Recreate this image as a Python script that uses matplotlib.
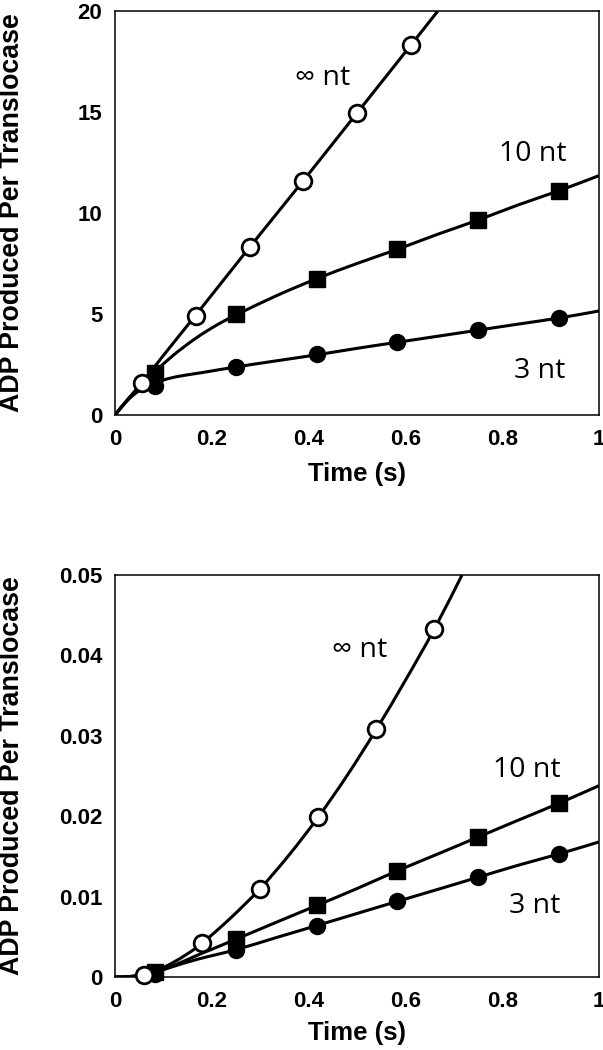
import matplotlib
matplotlib.use("Agg")
import matplotlib.pyplot as plt
import numpy as np
from matplotlib.path import Path
from matplotlib.patches import PathPatch

# ---------------- data ----------------
# Top panel: ADP per translocase (0-20)
top_inf_t = [0.056, 0.167, 0.278, 0.389, 0.500, 0.611]
top_inf_y = [1.6, 4.9, 8.3, 11.6, 14.95, 18.3]
top_10_t = [0.083, 0.250, 0.417, 0.583, 0.750, 0.917]
top_10_y = [2.1, 5.0, 6.75, 8.2, 9.65, 11.1]
top_3_t = [0.083, 0.250, 0.417, 0.583, 0.750, 0.917]
top_3_y = [1.45, 2.4, 3.0, 3.6, 4.22, 4.8]

# fitted curves
top_inf_curve_t = [0, 0.03, 0.056, 0.1, 0.167, 0.278, 0.389, 0.5, 0.611, 0.667]
top_inf_curve_y = [0, 0.85, 1.6, 2.95, 4.95, 8.3, 11.6, 14.95, 18.3, 20.0]
top_10_curve_t = [0, 0.02, 0.04, 0.06, 0.083, 0.12, 0.167, 0.21, 0.25, 0.333, 0.417,
                  0.5, 0.583, 0.667, 0.75, 0.833, 0.917, 1.0]
top_10_curve_y = [0, 0.6, 1.15, 1.65, 2.15, 2.95, 3.8, 4.45, 4.95, 5.9, 6.75,
                  7.5, 8.2, 8.95, 9.65, 10.4, 11.1, 11.85]
top_3_curve_t = [0, 0.015, 0.03, 0.045, 0.06, 0.083, 0.11, 0.14, 0.18, 0.25, 0.333,
                 0.417, 0.5, 0.583, 0.667, 0.75, 0.833, 0.917, 1.0]
top_3_curve_y = [0, 0.45, 0.82, 1.12, 1.35, 1.6, 1.8, 1.95, 2.1, 2.38, 2.68,
                 2.98, 3.3, 3.6, 3.9, 4.2, 4.5, 4.8, 5.15]

# Bottom panel: ADP per translocase (0-0.05)
bot_inf_t = [0.06, 0.18, 0.30, 0.42, 0.54, 0.66]
bot_inf_y = [0.0003, 0.0042, 0.0110, 0.0199, 0.0308, 0.0433]
bot_10_t = [0.083, 0.250, 0.417, 0.583, 0.750, 0.917]
bot_10_y = [0.0006, 0.0047, 0.0089, 0.0132, 0.0174, 0.0216]
bot_3_t = [0.083, 0.250, 0.417, 0.583, 0.750, 0.917]
bot_3_y = [0.0004, 0.0034, 0.0064, 0.0094, 0.0124, 0.0153]

bot_inf_curve_t = [0, 0.03, 0.06, 0.09, 0.12, 0.15, 0.18, 0.24, 0.30, 0.36, 0.42,
                   0.48, 0.54, 0.60, 0.66, 0.717]
bot_inf_curve_y = [0, 0.00005, 0.0003, 0.0009, 0.0018, 0.0029, 0.0042, 0.0074, 0.0110,
                   0.0152, 0.0199, 0.0251, 0.0308, 0.0369, 0.0433, 0.0500]
bot_10_curve_t = [0, 0.03, 0.06, 0.083, 0.12, 0.17, 0.25, 0.333, 0.417, 0.5,
                  0.583, 0.667, 0.75, 0.833, 0.917, 1.0]
bot_10_curve_y = [0, 0.00005, 0.0003, 0.0006, 0.0014, 0.0027, 0.0047, 0.0068, 0.0089,
                  0.0110, 0.0132, 0.0153, 0.0174, 0.0195, 0.0216, 0.0238]
bot_3_curve_t = [0, 0.03, 0.06, 0.083, 0.12, 0.17, 0.25, 0.333, 0.417, 0.5,
                 0.583, 0.667, 0.75, 0.833, 0.917, 1.0]
bot_3_curve_y = [0, 0.00005, 0.0003, 0.0006, 0.0013, 0.0022, 0.0034, 0.0049, 0.0064,
                 0.0079, 0.0094, 0.0109, 0.0124, 0.0139, 0.0153, 0.0168]

x_ticks = [0, 0.2, 0.4, 0.6, 0.8, 1.0]
x_ticklabels = ["0", "0.2", "0.4", "0.6", "0.8", "1"]
top_yticks = [0, 5, 10, 15, 20]
top_yticklabels = ["0", "5", "10", "15", "20"]
bot_yticks = [0, 0.01, 0.02, 0.03, 0.04, 0.05]
bot_yticklabels = ["0", "0.01", "0.02", "0.03", "0.04", "0.05"]

series_labels = ["\u221e nt", "10 nt", "3 nt"]
top_label_pos = [(0.43, 16.7), (0.864, 12.9), (0.878, 2.2)]
bot_label_pos = [(0.506, 0.0407), (0.851, 0.0257), (0.868, 0.0088)]

xlabel = "Time (s)"
ylabel = "ADP Produced Per Translocase"

# ---------------- plotting ----------------
W, H = 603, 1050
fig = plt.figure(figsize=(W / 100, H / 100), dpi=100)
ax_top = fig.add_axes([115 / W, 1 - 415 / H, 484 / W, 404 / H])
ax_bot = fig.add_axes([115 / W, 1 - 977 / H, 484 / W, 402 / H])

bold = dict(family=["Liberation Sans", "DejaVu Sans"], weight="bold")
ann_font = dict(family=["Open Sans", "DejaVu Sans"], size=20.5)

LW = 2.2


def smooth_path(ax, xs, ys):
    """Smooth curve through the sampled points, drawn as Bezier segments
    (Catmull-Rom control points) in data space."""
    p = np.column_stack([xs, ys]).astype(float)
    verts = [tuple(p[0])]
    codes = [Path.MOVETO]
    n = len(p)
    for i in range(n - 1):
        p0 = p[i - 1] if i > 0 else p[i]
        p1 = p[i]
        p2 = p[i + 1]
        p3 = p[i + 2] if i + 2 < n else p[i + 1]
        c1 = p1 + (p2 - p0) / 6.0
        c2 = p2 - (p3 - p1) / 6.0
        verts += [tuple(c1), tuple(c2), tuple(p2)]
        codes += [Path.CURVE4] * 3
    patch = PathPatch(Path(verts, codes), facecolor="none", edgecolor="black",
                      lw=LW, zorder=2, transform=ax.transData)
    ax.add_patch(patch)


def draw(ax, curves, pts, ylim, yticks, yticklabels, label_pos, xlabel_y):
    for (ct, cy) in curves:
        smooth_path(ax, ct, cy)
    (it, iy), (tt, ty), (st, sy) = pts
    ax.plot(st, sy, "o", color="black", ms=11.5, zorder=3, clip_on=False)
    ax.plot(tt, ty, "s", color="black", ms=12.0, zorder=4, clip_on=False)
    ax.plot(it, iy, "o", mfc="white", mec="black", mew=2.0, ms=12.0, zorder=5,
            clip_on=False)
    ax.set_xlim(0, 1)
    ax.set_ylim(*ylim)
    ax.set_xticks(x_ticks)
    ax.set_xticklabels(x_ticklabels, fontsize=16, **bold)
    ax.set_yticks(yticks)
    ax.set_yticklabels(yticklabels, fontsize=16, **bold)
    ax.tick_params(axis="x", length=0, pad=10)
    ax.tick_params(axis="y", length=0, pad=9)
    for s in ax.spines.values():
        s.set_linewidth(1.1)
    ax.set_xlabel(xlabel, fontsize=18.5, **bold)
    ax.xaxis.set_label_coords(0.5, xlabel_y)
    ax.xaxis.label.set_va("center")
    ax.set_ylabel(ylabel, fontsize=19.3, **bold)
    ax.yaxis.set_label_coords(-0.213, 0.5)
    ax.yaxis.label.set_va("center")
    ax.yaxis.label.set_ha("center")
    for lab, (x, y) in zip(series_labels, label_pos):
        ax.text(x, y, lab, ha="center", va="center", **ann_font)


draw(ax_top,
     [(top_inf_curve_t, top_inf_curve_y), (top_10_curve_t, top_10_curve_y),
      (top_3_curve_t, top_3_curve_y)],
     [(top_inf_t, top_inf_y), (top_10_t, top_10_y), (top_3_t, top_3_y)],
     (0, 20), top_yticks, top_yticklabels, top_label_pos, -59 / 404)

draw(ax_bot,
     [(bot_inf_curve_t, bot_inf_curve_y), (bot_10_curve_t, bot_10_curve_y),
      (bot_3_curve_t, bot_3_curve_y)],
     [(bot_inf_t, bot_inf_y), (bot_10_t, bot_10_y), (bot_3_t, bot_3_y)],
     (0, 0.05), bot_yticks, bot_yticklabels, bot_label_pos, -56 / 402)

fig.savefig("out.png", dpi=100)
